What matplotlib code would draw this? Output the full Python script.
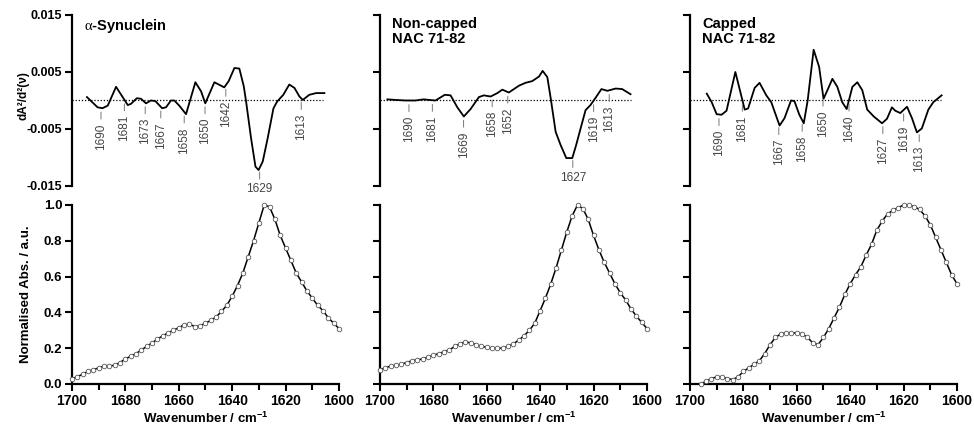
import numpy as np
import matplotlib
matplotlib.use("Agg")
from matplotlib import pyplot as plt


"""Second-derivative and normalised amide I FTIR spectra for alpha-synuclein,
   non-capped and capped NAC 71-82 peptides."""

plt.rcParams["font.family"] = ["Liberation Sans", "DejaVu Sans"]
plt.rcParams["mathtext.fontset"] = "custom"
plt.rcParams["mathtext.rm"] = "Liberation Serif"
plt.rcParams["mathtext.bf"] = "Liberation Sans:bold"

# panel titles
titles = ["$\\mathrm{\\alpha}$-Synuclein", "Non-capped\nNAC 71-82", "Capped\nNAC 71-82"]

# normalised absorbance, one point every 2 cm-1
wavenumbers = [1700, 1698, 1696, 1694, 1692, 1690, 1688, 1686, 1684, 1682,
               1680, 1678, 1676, 1674, 1672, 1670, 1668, 1666, 1664, 1662,
               1660, 1658, 1656, 1654, 1652, 1650, 1648, 1646, 1644, 1642,
               1640, 1638, 1636, 1634, 1632, 1630, 1628, 1626, 1624, 1622,
               1620, 1618, 1616, 1614, 1612, 1610, 1608, 1606, 1604, 1602, 1600]
absSyn = [0.03, 0.04, 0.055, 0.07, 0.08, 0.09, 0.10, 0.10, 0.105, 0.12,
          0.14, 0.155, 0.17, 0.19, 0.21, 0.23, 0.25, 0.27, 0.285, 0.30,
          0.315, 0.33, 0.335, 0.32, 0.325, 0.34, 0.355, 0.375, 0.405, 0.44,
          0.49, 0.55, 0.62, 0.71, 0.80, 0.90, 1.00, 0.99, 0.92, 0.83,
          0.76, 0.69, 0.62, 0.57, 0.52, 0.48, 0.44, 0.41, 0.37, 0.34, 0.31]
absNonCapped = [0.08, 0.09, 0.10, 0.105, 0.11, 0.12, 0.13, 0.135, 0.14, 0.15,
                0.16, 0.17, 0.18, 0.19, 0.21, 0.225, 0.235, 0.23, 0.22, 0.21,
                0.205, 0.20, 0.20, 0.20, 0.21, 0.225, 0.245, 0.27, 0.30, 0.34,
                0.41, 0.48, 0.56, 0.65, 0.75, 0.85, 0.94, 1.00, 0.98, 0.92,
                0.83, 0.75, 0.68, 0.62, 0.56, 0.51, 0.47, 0.42, 0.38, 0.345, 0.31]
absCapped = [np.nan, np.nan, 0.0, 0.015, 0.03, 0.04, 0.04, 0.03, 0.025, 0.04,
             0.07, 0.09, 0.11, 0.13, 0.17, 0.22, 0.26, 0.28, 0.285, 0.285,
             0.285, 0.28, 0.26, 0.23, 0.22, 0.26, 0.31, 0.37, 0.43, 0.50,
             0.56, 0.61, 0.655, 0.72, 0.78, 0.86, 0.91, 0.95, 0.97, 0.985,
             1.0, 1.0, 0.99, 0.975, 0.94, 0.89, 0.82, 0.75, 0.68, 0.61, 0.56]

# second derivative traces
derivWnSyn = [1695.4, 1691.3, 1689.4, 1687.4, 1684.2, 1679.7, 1678.5, 1676.2, 1674.6,
              1672.7, 1670.8, 1669.1, 1666.5, 1665.0, 1663.1, 1661.8, 1659.9, 1657.3,
              1653.7, 1651.5, 1649.9, 1646.4, 1642.6, 1640.9, 1638.7, 1636.8, 1635.1,
              1634.2, 1632.3, 1630.6, 1629.4, 1627.8, 1625.9, 1623.7, 1622.3, 1619.9,
              1617.6, 1615.6, 1613.7, 1612.4, 1609.9, 1607.3, 1604.1]
derivSyn = [0.0006, -0.0012, -0.00135, -0.0009, 0.0024, -0.0008, -0.0006, 0.0004, 0.0003,
            -0.0005, 0.0, -0.0001, -0.00135, -0.0012, 0.0, 0.0, -0.0009, -0.0024,
            0.0032, 0.0016, -0.0005, 0.0032, 0.0023, 0.0034, 0.0057, 0.0056, 0.0025,
            -0.0002, -0.0066, -0.0116, -0.0122, -0.0107, -0.0066, -0.0014, -0.0002, 0.001,
            0.0028, 0.0022, 0.0007, 0.0001, 0.001, 0.0013, 0.0013]
derivWnNonCapped = [1698.3, 1695.2, 1691.3, 1687.5, 1684.3, 1682.3, 1679.8, 1676.2, 1674.0,
                    1671.4, 1668.9, 1666.3, 1663.1, 1661.2, 1658.6, 1656.0, 1654.1, 1651.6,
                    1647.7, 1645.2, 1642.6, 1640.0, 1638.6, 1636.8, 1635.5, 1633.6, 1631.7,
                    1629.5, 1627.2, 1625.7, 1624.0, 1622.1, 1620.2, 1618.2, 1616.0, 1613.7,
                    1610.5, 1608.0, 1604.8]
derivNonCapped = [0.0002, 0.0001, 0.0, 0.0, 0.0002, 0.0001, 0.0, 0.001, 0.0009,
                  -0.0012, -0.0028, -0.0015, 0.0006, 0.0009, 0.0007, 0.0013, 0.0019, 0.0014,
                  0.0026, 0.0031, 0.0034, 0.0042, 0.0052, 0.0041, 0.0004, -0.0055, -0.0078,
                  -0.0101, -0.0101, -0.0078, -0.0049, -0.0017, -0.0008, 0.0005, 0.002, 0.0017,
                  0.0021, 0.002, 0.0011]
derivWnCapped = [1694.7, 1692.8, 1690.9, 1689.0, 1687.1, 1683.7, 1680.1, 1678.8, 1676.3,
                 1674.4, 1671.8, 1669.9, 1666.7, 1664.8, 1662.3, 1661.0, 1659.1, 1657.4,
                 1655.9, 1653.6, 1651.5, 1649.8, 1648.3, 1646.4, 1644.5, 1642.6, 1640.9,
                 1638.7, 1636.8, 1634.9, 1633.0, 1630.5, 1627.3, 1625.4, 1623.5, 1622.2,
                 1620.3, 1617.7, 1615.8, 1613.9, 1612.0, 1609.5, 1607.6, 1604.4]
derivCapped = [0.0012, -0.0003, -0.0024, -0.0025, -0.0018, 0.005, -0.0016, -0.0014, 0.0022,
               0.0031, 0.0009, -0.0003, -0.0044, -0.0031, 0.0, -0.0001, -0.0025, -0.004,
               0.0, 0.0089, 0.0059, 0.0003, 0.0018, 0.0038, 0.0024, -0.0003, -0.0015,
               0.0024, 0.0032, 0.0018, -0.0016, -0.0028, -0.004, -0.0032, -0.0012, -0.0018,
               -0.0022, -0.0011, -0.0031, -0.0056, -0.0049, -0.0016, -0.0003, 0.0009]

# band assignments marked under each derivative trace
bandsSyn = [1690, 1681, 1673, 1667, 1658, 1650, 1642, 1613]
bandsNonCapped = [1690, 1681, 1669, 1658, 1652, 1619, 1613]
bandsCapped = [1690, 1681, 1667, 1658, 1650, 1640, 1627, 1619, 1613]
mainBands = [1629, 1627, None]

derivTicks = [-0.015, -0.005, 0.005, 0.015]
derivTickLabels = ["-0.015", "-0.005", "0.005", "0.015"]
absTicks = [0.0, 0.2, 0.4, 0.6, 0.8, 1.0]
absTickLabels = ["0.0", "0.2", "0.4", "0.6", "0.8", "1.0"]
wnTicks = [1700, 1680, 1660, 1640, 1620, 1600]
wnMinorTicks = [1690, 1670, 1650, 1630, 1610]

LABEL_GREY = "#444444"


def labelBand(ax, wn, deriv, band, flat):
    """Purpose: writes a band position under the derivative trace with a small tick
    Parameters: ax: axes, wn/deriv: the trace, band: wavenumber, flat: horizontal text"""
    xs = np.array(wn)[::-1]
    ys = np.array(deriv)[::-1]
    yCurve = np.interp(band, xs, ys)
    ax.annotate(str(band), xy=(band, yCurve), xytext=(0, -11),
                textcoords="offset points", ha="center", va="top",
                rotation=0 if flat else 90, fontsize=8.5, color=LABEL_GREY,
                arrowprops=dict(arrowstyle="-", color="#777777", lw=0.7,
                                shrinkA=1.0, shrinkB=3.0))


def drawDerivative(ax, wn, deriv, bands, mainBand, title, first):
    """Purpose: draws the second derivative panel"""
    ax.plot(wn, deriv, color="black", lw=1.3)
    ax.axhline(0, xmin=0, xmax=0.94, color="black", lw=0.9, ls=(0, (1, 1.5)))
    ax.set_xlim(1701.15, 1598.5)
    ax.set_ylim(-0.015, 0.015)

    for spine in ("top", "right", "bottom"):
        ax.spines[spine].set_visible(False)
    ax.spines["left"].set_linewidth(1.6)
    ax.set_xticks([])
    ax.set_yticks(derivTicks)
    ax.tick_params(axis="y", direction="out", width=1.5, length=5, pad=2)
    if first:
        ax.set_yticklabels(derivTickLabels, fontsize=9, fontweight="bold")
        ax.set_ylabel("dA²/d²(ν)", fontsize=8.5, fontweight="bold")
        ax.yaxis.set_label_coords(-0.16, 0.53)
    else:
        ax.set_yticklabels([])

    for band in bands:
        labelBand(ax, wn, deriv, band, False)
    if mainBand is not None:
        labelBand(ax, wn, deriv, mainBand, True)

    ax.text(0.045, 0.99, title, transform=ax.transAxes, ha="left", va="top",
            fontsize=10.5, fontweight="bold", linespacing=1.1)


def drawAbsorbance(ax, values, first):
    """Purpose: draws the normalised absorbance panel with open circle markers"""
    ax.plot(wavenumbers, values, color="black", lw=1.1, marker="o", ms=3.3,
            mfc="white", mec="#555555", mew=0.6, clip_on=False, zorder=3)
    ax.set_xlim(1700, 1600)
    ax.set_ylim(0, 1.0)

    for spine in ("top", "right"):
        ax.spines[spine].set_visible(False)
    for spine in ("left", "bottom"):
        ax.spines[spine].set_linewidth(1.6)

    ax.set_xticks(wnTicks)
    ax.set_xticks(wnMinorTicks, minor=True)
    ax.set_xticklabels([str(t) for t in wnTicks], fontsize=10, fontweight="bold")
    ax.set_yticks(absTicks)
    ax.tick_params(direction="out", width=1.5, length=5, pad=2)
    ax.tick_params(which="minor", direction="out", width=1.5, length=4)
    if first:
        ax.set_yticklabels(absTickLabels, fontsize=9.5, fontweight="bold")
        ax.set_ylabel("Normalised Abs. / a.u.", fontsize=9.5, fontweight="bold")
        ax.yaxis.set_label_coords(-0.15, 0.5)
    else:
        ax.set_yticklabels([])
    ax.set_xlabel("Wavenumber / cm$^{\\mathbf{-1}}$", fontsize=9.5,
                  fontweight="bold", labelpad=2)


def main():
    fig = plt.figure(figsize=(9.74, 4.26), dpi=100)

    lefts = [0.0739, 0.3901, 0.7084]
    width = 0.2741
    derivs = [(derivWnSyn, derivSyn, bandsSyn),
              (derivWnNonCapped, derivNonCapped, bandsNonCapped),
              (derivWnCapped, derivCapped, bandsCapped)]
    absorbances = [absSyn, absNonCapped, absCapped]

    for i in range(3):
        axTop = fig.add_axes([lefts[i], 0.5634, width, 0.4014])
        axBottom = fig.add_axes([lefts[i], 0.0986, width, 0.4202])
        wn, deriv, bands = derivs[i]
        drawDerivative(axTop, wn, deriv, bands, mainBands[i], titles[i], i == 0)
        drawAbsorbance(axBottom, absorbances[i], i == 0)

    fig.savefig("out.png", dpi=100)


main()
